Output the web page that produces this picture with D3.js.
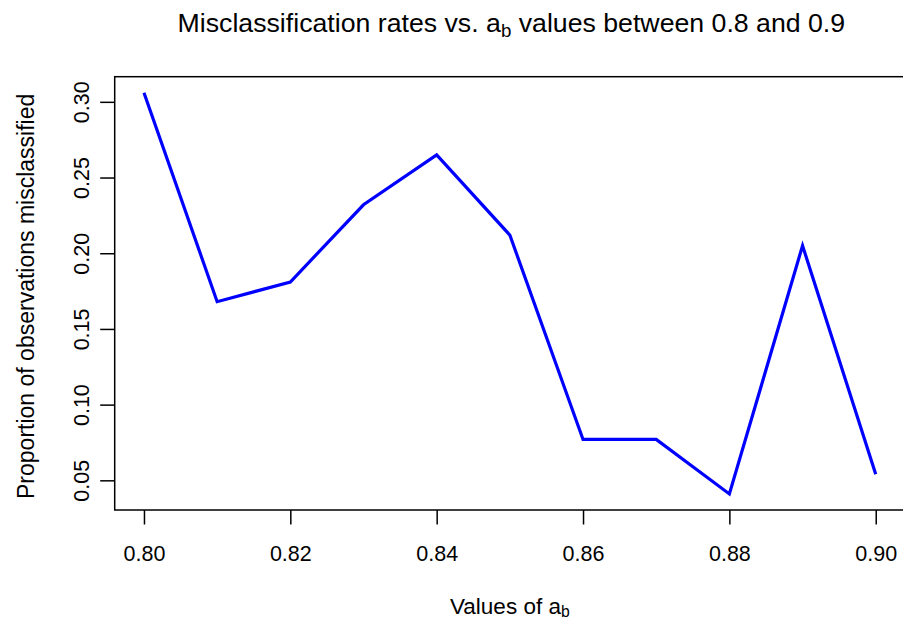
<!DOCTYPE html>
<html>
<head>
<meta charset="utf-8">
<script src="https://cdn.jsdelivr.net/npm/d3@7"></script>
<style>
  body { margin: 0; background: #fff; }
  svg { display: block; }
  text { font-family: "Liberation Sans", Arial, sans-serif; fill: #000; }
</style>
</head>
<body>
<script>
// values of a_b and the misclassification proportion for each
const abValues = [0.80, 0.81, 0.82, 0.83, 0.84, 0.85, 0.86, 0.87, 0.88, 0.89, 0.90]
const misclassRates = [0.306, 0.168, 0.181, 0.232, 0.265, 0.212, 0.077, 0.077, 0.041, 0.205, 0.054]

const xTicks = [0.80, 0.82, 0.84, 0.86, 0.88, 0.90]
const yTicks = [0.05, 0.10, 0.15, 0.20, 0.25, 0.30]

const WIDTH = 903
const HEIGHT = 620
const FONT = 21.5

// plot region (R style, 4% padding around data range)
const plotLeft = 114.7
const plotRight = 905
const plotTop = 76.7
const plotBottom = 510

const pad = ext => {
  const r = ext[1] - ext[0]
  return [ext[0] - 0.04 * r, ext[1] + 0.04 * r]
}

const x = d3.scaleLinear().domain(pad(d3.extent(abValues))).range([plotLeft, plotRight])
const y = d3.scaleLinear().domain(pad(d3.extent(misclassRates))).range([plotBottom, plotTop])

const svg = d3.select('body').append('svg')
  .attr('width', WIDTH)
  .attr('height', HEIGHT)

const data = abValues.map((a, i) => ({ a, rate: misclassRates[i] }))

svg.append('path')
  .datum(data)
  .attr('fill', 'none')
  .attr('stroke', '#0000ff')
  .attr('stroke-width', 3.2)
  .attr('stroke-linejoin', 'miter')
  .attr('d', d3.line().x(d => x(d.a)).y(d => y(d.rate)))

// box
svg.append('rect')
  .attr('x', plotLeft)
  .attr('y', plotTop)
  .attr('width', plotRight - plotLeft)
  .attr('height', plotBottom - plotTop)
  .attr('fill', 'none')
  .attr('stroke', '#000')
  .attr('stroke-width', 1.5)

const xAxis = svg.append('g')
  .attr('transform', `translate(0,${plotBottom})`)
  .call(d3.axisBottom(x).tickValues(xTicks).tickFormat(d3.format('.2f')).tickSize(14.5).tickSizeOuter(0))
xAxis.select('.domain').remove()
xAxis.selectAll('line').attr('stroke-width', 1.5)
xAxis.selectAll('text')
  .attr('font-size', FONT)
  .attr('font-family', '"Liberation Sans", Arial, sans-serif')
  .attr('dy', null)
  .attr('y', 50.7)

const yAxis = svg.append('g')
  .attr('transform', `translate(${plotLeft},0)`)
  .call(d3.axisLeft(y).tickValues(yTicks).tickFormat(d3.format('.2f')).tickSize(14.5).tickSizeOuter(0))
yAxis.select('.domain').remove()
yAxis.selectAll('line').attr('stroke-width', 1.5)
yAxis.selectAll('text')
  .attr('font-size', FONT)
  .attr('font-family', '"Liberation Sans", Arial, sans-serif')
  .attr('x', null)
  .attr('dy', null)
  .attr('text-anchor', 'middle')
  .attr('transform', 'translate(-25.4,0) rotate(-90)')

// title with subscript
const cx = (plotLeft + plotRight) / 2
const titleSize = 26.7
const title = svg.append('text')
  .attr('x', cx + 1.5)
  .attr('y', 32)
  .attr('text-anchor', 'middle')
  .attr('font-size', titleSize)
title.append('tspan').text('Misclassification rates vs. a')
title.append('tspan').attr('font-size', titleSize * 0.7).attr('dy', 5).text('b')
title.append('tspan').attr('dy', -5).text(' values between 0.8 and 0.9')

const labelSize = 22.5
const xLabel = svg.append('text')
  .attr('x', cx)
  .attr('y', 614)
  .attr('text-anchor', 'middle')
  .attr('font-size', labelSize)
xLabel.append('tspan').text('Values of a')
xLabel.append('tspan').attr('font-size', labelSize * 0.7).attr('dy', 3).text('b')

svg.append('text')
  .attr('transform', `translate(33.5,${(plotTop + plotBottom) / 2 + 3}) rotate(-90)`)
  .attr('text-anchor', 'middle')
  .attr('font-size', 23)
  .text('Proportion of observations misclassified')
</script>
</body>
</html>
